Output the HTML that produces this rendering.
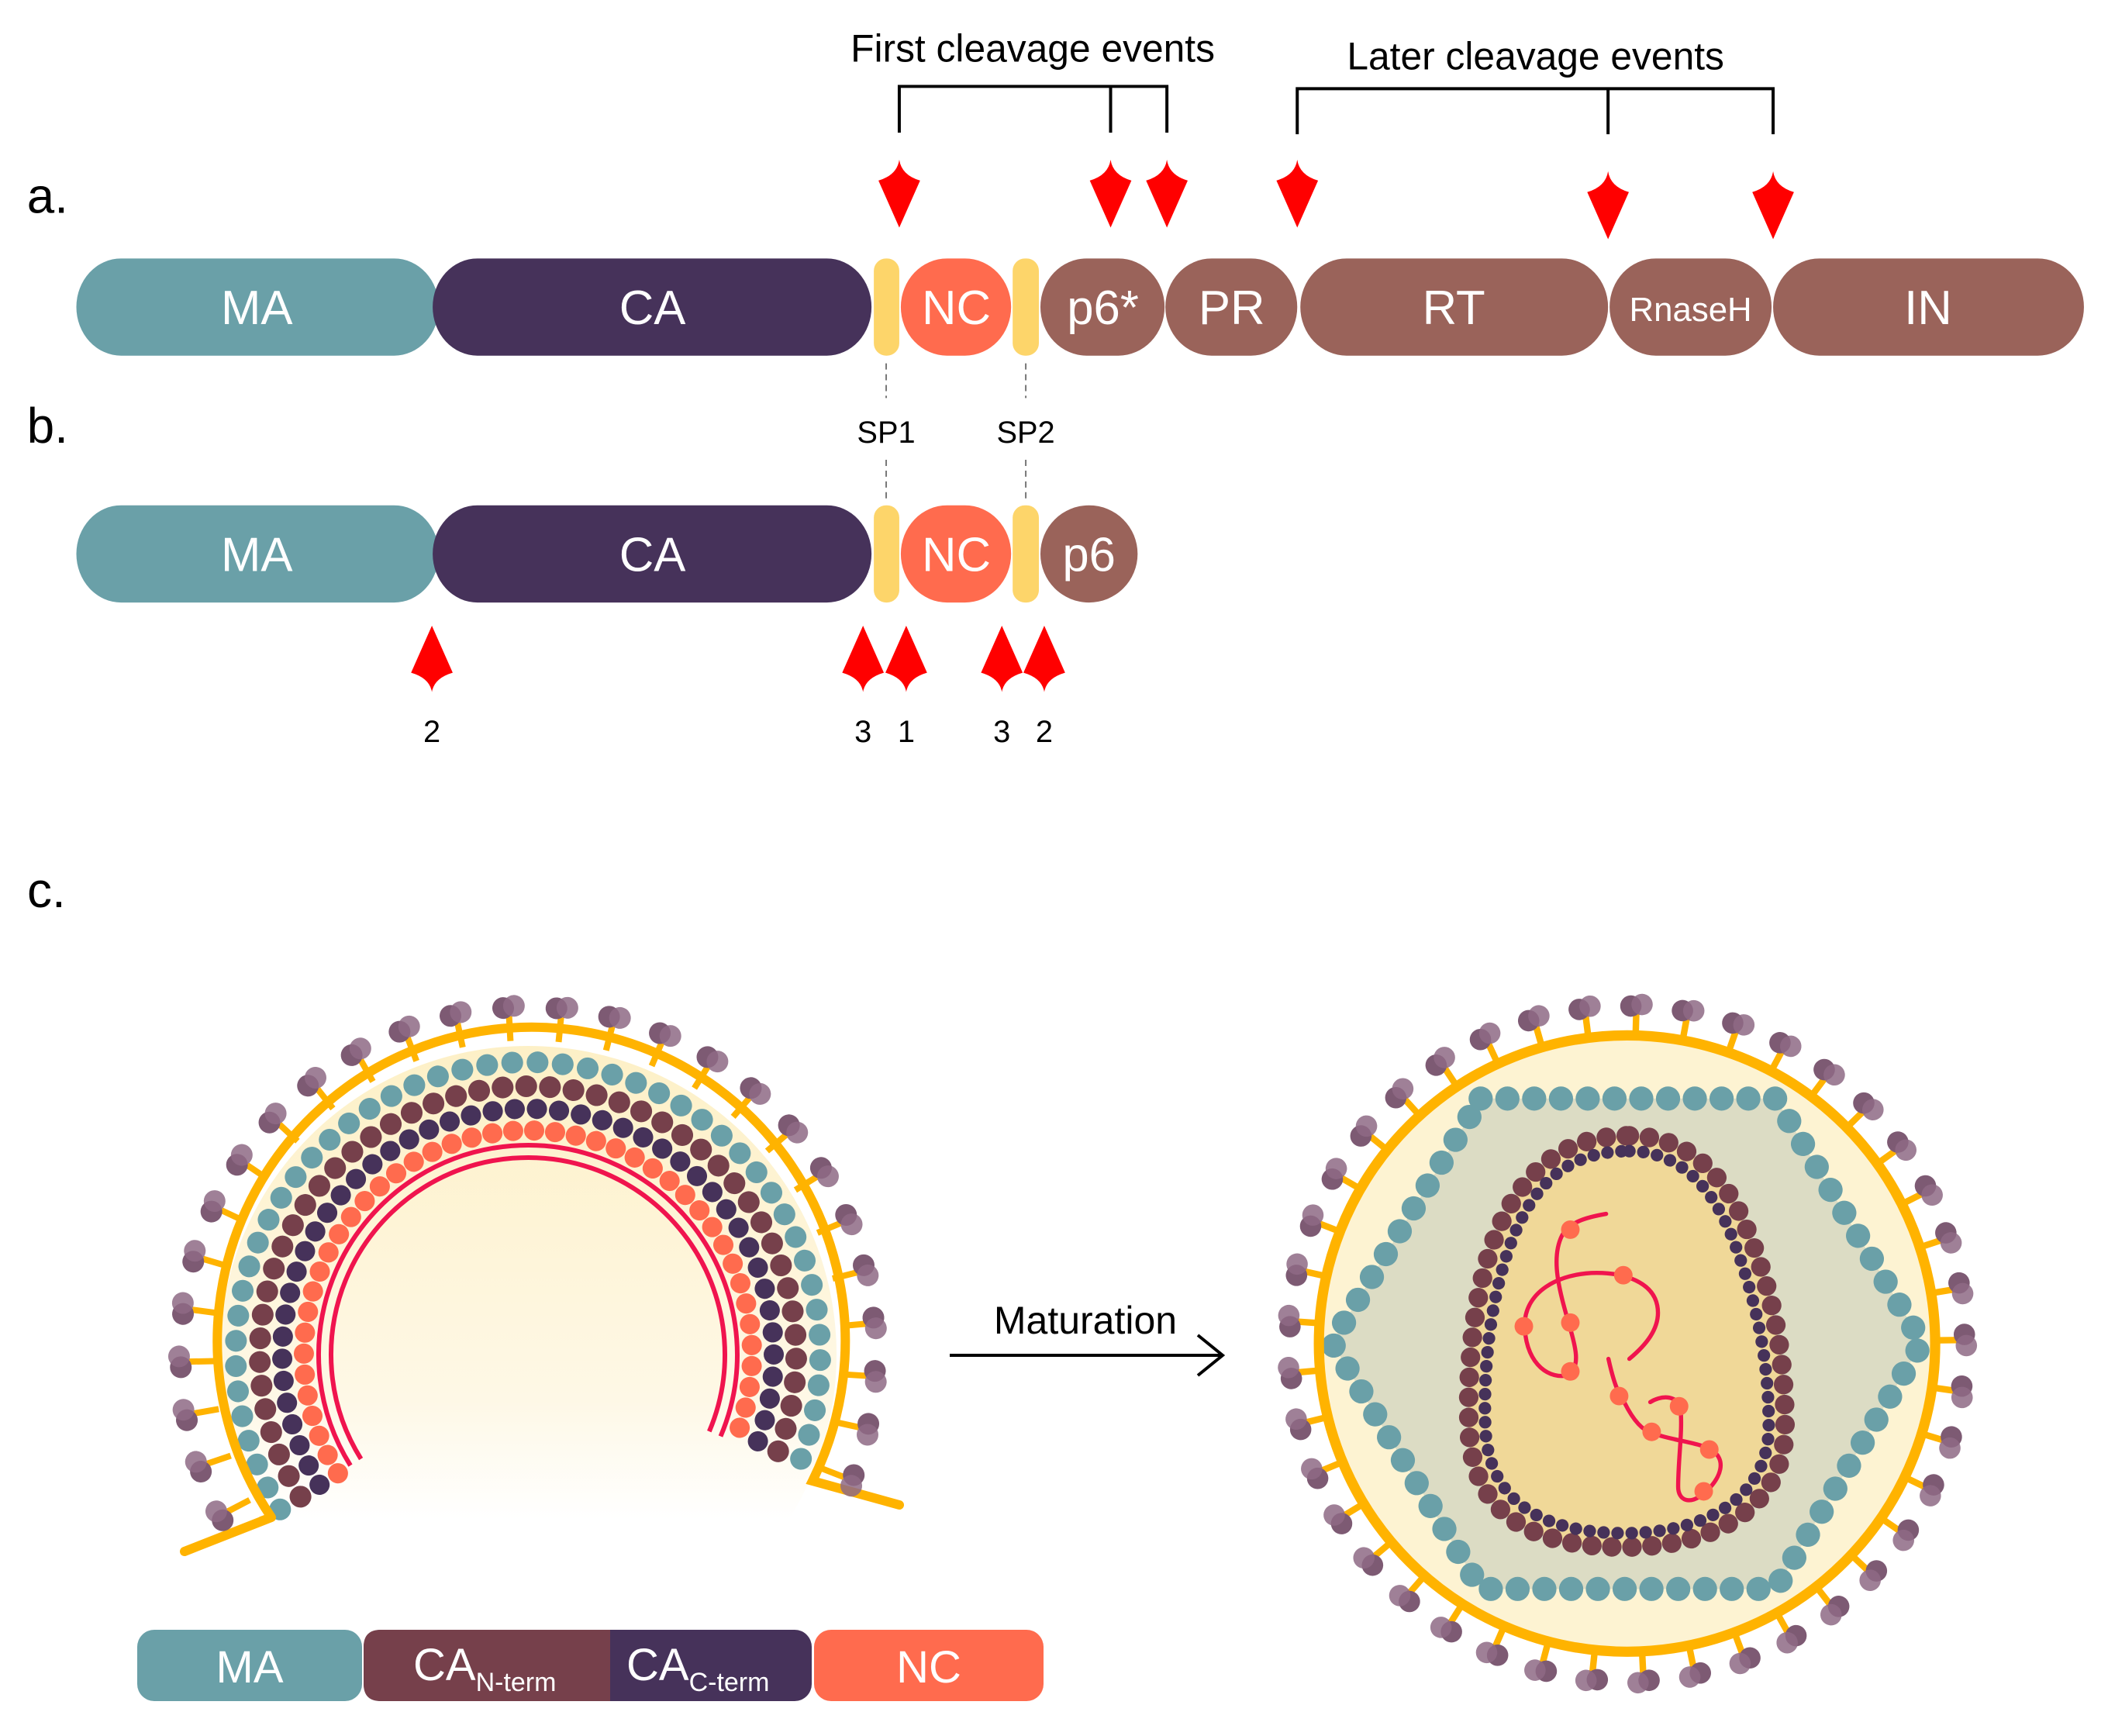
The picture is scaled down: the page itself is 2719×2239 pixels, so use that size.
<!DOCTYPE html>
<html><head><meta charset="utf-8"><style>
html,body{margin:0;padding:0;background:#fff;}
svg{display:block;}
text{font-family:"Liberation Sans",sans-serif;}
</style></head><body>
<svg width="2719" height="2239" viewBox="0 0 2719 2239" xmlns="http://www.w3.org/2000/svg">
<defs>
<path id="kd" d="M0,0 Q3,20 27,27 L0,88 L-27,27 Q-3,20 0,0 Z" fill="#ff0000"/>
<path id="ku" d="M0,0 L27,61 Q3,68 0,86 Q-3,68 -27,61 Z" fill="#ff0000"/>
<g id="spL">
<line x1="681" y1="1342" x2="681" y2="1310" stroke="#ffb300" stroke-width="8"/>
<circle cx="674" cy="1299" r="14" fill="#7d5a73"/>
<circle cx="688" cy="1297" r="14" fill="#8e6a85" opacity="0.85"/>
</g>
<g id="spR">
<line x1="765" y1="110" x2="765" y2="60" stroke="#ffb300" stroke-width="14"/>
<circle cx="753" cy="46" r="23" fill="#7d5a73"/>
<circle cx="777" cy="42" r="23" fill="#8e6a85" opacity="0.85"/>
</g>
<linearGradient id="gl" x1="0" y1="1342" x2="0" y2="1960" gradientUnits="userSpaceOnUse">
<stop offset="0" stop-color="#fdf0c6"/><stop offset="0.75" stop-color="#fef8e6"/><stop offset="1" stop-color="#ffffff"/>
</linearGradient>
</defs>

<g transform="scale(0.9948,0.995)">
<text x="35" y="276" font-size="64">a.</text>
<text x="35" y="574" font-size="64">b.</text>

<text x="1339" y="80" font-size="50" text-anchor="middle">First cleavage events</text>
<text x="1991" y="90" font-size="50" text-anchor="middle">Later cleavage events</text>
<g stroke="#000" stroke-width="4" fill="none">
<path d="M1166,172 V112 H1513 V172 M1440,112 V172"/>
<path d="M1682,174 V115 H2299 V174 M2085,115 V174"/>
</g>
<use href="#kd" x="1166" y="207"/><use href="#kd" x="1440" y="207"/><use href="#kd" x="1513" y="207"/>
<use href="#kd" x="1682" y="207"/><use href="#kd" x="2085" y="222"/><use href="#kd" x="2299" y="222"/>

<rect x="99" y="335" width="470" height="126" rx="58" ry="63" fill="#6aa0a8"/>
<rect x="561" y="335" width="569" height="126" rx="58" ry="63" fill="#46325a"/>
<rect x="1133" y="335" width="33" height="126" rx="16" fill="#fdd56a"/>
<rect x="1168" y="335" width="143" height="126" rx="60" ry="63" fill="#ff6b4e"/>
<rect x="1313" y="335" width="34" height="126" rx="16" fill="#fdd56a"/>
<rect x="1349" y="335" width="161" height="126" rx="60" ry="63" fill="#9a635a"/>
<rect x="1511" y="335" width="171" height="126" rx="60" ry="63" fill="#9a635a"/>
<rect x="1686" y="335" width="399" height="126" rx="60" ry="63" fill="#9a635a"/>
<rect x="2087" y="335" width="210" height="126" rx="60" ry="63" fill="#9a635a"/>
<rect x="2299" y="335" width="403" height="126" rx="60" ry="63" fill="#9a635a"/>
<g fill="#fff" font-size="62" text-anchor="middle">
<text x="333" y="420">MA</text><text x="846" y="420">CA</text><text x="1240" y="420">NC</text>
<text x="1430" y="420">p6*</text><text x="1597" y="420">PR</text><text x="1885" y="420">RT</text>
<text x="2192" y="416" font-size="44">RnaseH</text><text x="2500" y="420">IN</text>
</g>

<g stroke="#777" stroke-width="2" stroke-dasharray="8,6">
<line x1="1149" y1="471" x2="1149" y2="516"/><line x1="1149" y1="596" x2="1149" y2="650"/>
<line x1="1330" y1="471" x2="1330" y2="516"/><line x1="1330" y1="596" x2="1330" y2="650"/>
</g>
<text x="1149" y="574" font-size="40" text-anchor="middle">SP1</text>
<text x="1330" y="574" font-size="40" text-anchor="middle">SP2</text>

<rect x="99" y="655" width="470" height="126" rx="58" ry="63" fill="#6aa0a8"/>
<rect x="561" y="655" width="569" height="126" rx="58" ry="63" fill="#46325a"/>
<rect x="1133" y="655" width="33" height="126" rx="16" fill="#fdd56a"/>
<rect x="1168" y="655" width="143" height="126" rx="60" ry="63" fill="#ff6b4e"/>
<rect x="1313" y="655" width="34" height="126" rx="16" fill="#fdd56a"/>
<rect x="1349" y="655" width="126" height="126" rx="63" ry="63" fill="#9a635a"/>
<g fill="#fff" font-size="62" text-anchor="middle">
<text x="333" y="740">MA</text><text x="846" y="740">CA</text><text x="1240" y="740">NC</text><text x="1412" y="740">p6</text>
</g>
<use href="#ku" x="560" y="811"/><use href="#ku" x="1119" y="811"/><use href="#ku" x="1175" y="811"/>
<use href="#ku" x="1299" y="811"/><use href="#ku" x="1354" y="811"/>
<g font-size="40" text-anchor="middle">
<text x="560" y="962">2</text><text x="1119" y="962">3</text><text x="1175" y="962">1</text>
<text x="1299" y="962">3</text><text x="1354" y="962">2</text>
</g>
</g>
<text x="35" y="1170" font-size="64">c.</text>

<!-- left virus -->
<circle cx="681" cy="1747" r="398" fill="url(#gl)"/>
<g fill="none" stroke-linecap="round">
<path d="M361.3,1946.8 A377,377 0 1 1 1028,1894.3" stroke="#6aa0a8" stroke-width="28" stroke-dasharray="0.1 32.5"/>
<path d="M387.6,1930.4 A346,346 0 1 1 999.5,1882.2" stroke="#76404b" stroke-width="28" stroke-dasharray="0.1 30.5"/>
<path d="M412.2,1915 A317,317 0 1 1 972.8,1870.9" stroke="#46325a" stroke-width="26" stroke-dasharray="0.1 28.5"/>
<path d="M435.9,1900.2 A289,289 0 1 1 947,1859.9" stroke="#ff6b4e" stroke-width="26" stroke-dasharray="0.1 27"/>
<path d="M452,1890.1 A270,270 0 1 1 929.5,1852.5" stroke="#f0144e" stroke-width="6" stroke-linecap="butt"/>
<path d="M465.6,1881.6 A254,254 0 1 1 914.8,1846.2" stroke="#f0144e" stroke-width="6" stroke-linecap="butt"/>
<path d="M238,2001 L350,1957 L337.5,1961.6 M350,1957 A405,405 0 1 1 1048,1910 L1160,1941" stroke="#ffb300" stroke-width="12" stroke-linejoin="miter"/>
</g>
<g>
<use href="#spL" transform="rotate(-117.6 681 1747)"/><use href="#spL" transform="rotate(-108.8 681 1747)"/>
<use href="#spL" transform="rotate(-100 681 1747)"/><use href="#spL" transform="rotate(-91.2 681 1747)"/>
<use href="#spL" transform="rotate(-82.4 681 1747)"/><use href="#spL" transform="rotate(-73.6 681 1747)"/>
<use href="#spL" transform="rotate(-64.8 681 1747)"/><use href="#spL" transform="rotate(-56 681 1747)"/>
<use href="#spL" transform="rotate(-47.2 681 1747)"/><use href="#spL" transform="rotate(-38.4 681 1747)"/>
<use href="#spL" transform="rotate(-29.6 681 1747)"/><use href="#spL" transform="rotate(-20.8 681 1747)"/>
<use href="#spL" transform="rotate(-12 681 1747)"/><use href="#spL" transform="rotate(-3.2 681 1747)"/>
<use href="#spL" transform="rotate(5.6 681 1747)"/><use href="#spL" transform="rotate(14.4 681 1747)"/>
<use href="#spL" transform="rotate(23.2 681 1747)"/><use href="#spL" transform="rotate(32 681 1747)"/>
<use href="#spL" transform="rotate(40.8 681 1747)"/><use href="#spL" transform="rotate(49.6 681 1747)"/>
<use href="#spL" transform="rotate(58.4 681 1747)"/><use href="#spL" transform="rotate(67.2 681 1747)"/>
<use href="#spL" transform="rotate(76 681 1747)"/><use href="#spL" transform="rotate(84.8 681 1747)"/>
<use href="#spL" transform="rotate(93.6 681 1747)"/><use href="#spL" transform="rotate(102.4 681 1747)"/>
<use href="#spL" transform="rotate(111.2 681 1747)"/>
</g>

<text x="1400" y="1720" font-size="50" text-anchor="middle">Maturation</text>
<path d="M1225,1748 H1577 M1545,1722 L1577,1748 L1545,1774" stroke="#000" stroke-width="4" fill="none"/>

<g transform="translate(1640,1270) scale(0.5995)">
<circle cx="765" cy="772" r="663" fill="#fdf3d2"/>
<path d="M450,245 H1085 L1400,770 L1085,1300 H450 L130,770 Z" fill="#dcdcc4"/>
<path d="M450,245 H1085 L1400,770 L1085,1300 H450 L130,770 Z" fill="none" stroke="#6aa0a8" stroke-width="52" stroke-linecap="round" stroke-dasharray="0.1 57.5"/>
<path d="M770,325 C900,325 980,420 1020,520 C1080,660 1105,800 1105,950 C1105,1120 960,1210 760,1210 C560,1210 430,1140 425,950 C420,800 440,620 500,500 C560,380 650,325 770,325 Z" fill="#f0d898" stroke="#76404b" stroke-width="42" stroke-linecap="round" stroke-dasharray="0.1 43"/>
<path d="M770,358 C880,358 950,440 990,540 C1045,680 1070,810 1070,950 C1070,1100 940,1180 760,1180 C580,1180 465,1110 460,950 C455,810 475,640 530,520 C585,400 665,358 770,358 Z" fill="#f0d898" stroke="#46325a" stroke-width="27" stroke-linecap="round" stroke-dasharray="0.1 30"/>
<g fill="none" stroke="#f0144e" stroke-width="9" stroke-linecap="round">
<path d="M720,493 C680,500 640,510 625,540 C600,590 620,660 640,730 C655,780 665,820 640,840 C600,850 550,820 545,740 C540,660 620,620 700,620 C760,620 820,640 830,690 C840,740 800,780 770,805"/>
<path d="M725,805 C735,850 745,880 760,900 C780,940 800,960 820,965 C860,980 920,985 945,1000 C980,1020 970,1060 930,1095 C900,1120 875,1110 875,1080 C875,1020 885,960 880,910 C870,880 835,885 815,898"/>
</g>
<g fill="#ff6b4e">
<circle cx="643" cy="527" r="20"/><circle cx="757" cy="625" r="20"/><circle cx="543" cy="735" r="20"/>
<circle cx="643" cy="727" r="20"/><circle cx="643" cy="832" r="20"/><circle cx="748" cy="885" r="20"/>
<circle cx="818" cy="962" r="20"/><circle cx="877" cy="907" r="20"/><circle cx="942" cy="1000" r="20"/>
<circle cx="930" cy="1090" r="20"/>
</g>
<circle cx="765" cy="772" r="663" fill="none" stroke="#ffb300" stroke-width="22"/>
<g>
<use href="#spR" transform="rotate(1.6 765 772)"/><use href="#spR" transform="rotate(10.4 765 772)"/>
<use href="#spR" transform="rotate(19.2 765 772)"/><use href="#spR" transform="rotate(27.9 765 772)"/>
<use href="#spR" transform="rotate(36.7 765 772)"/><use href="#spR" transform="rotate(45.5 765 772)"/>
<use href="#spR" transform="rotate(54.3 765 772)"/><use href="#spR" transform="rotate(63.1 765 772)"/>
<use href="#spR" transform="rotate(71.8 765 772)"/><use href="#spR" transform="rotate(80.6 765 772)"/>
<use href="#spR" transform="rotate(89.4 765 772)"/><use href="#spR" transform="rotate(98.2 765 772)"/>
<use href="#spR" transform="rotate(107 765 772)"/><use href="#spR" transform="rotate(115.7 765 772)"/>
<use href="#spR" transform="rotate(124.5 765 772)"/><use href="#spR" transform="rotate(133.3 765 772)"/>
<use href="#spR" transform="rotate(142.1 765 772)"/><use href="#spR" transform="rotate(150.9 765 772)"/>
<use href="#spR" transform="rotate(159.6 765 772)"/><use href="#spR" transform="rotate(168.4 765 772)"/>
<use href="#spR" transform="rotate(177.2 765 772)"/><use href="#spR" transform="rotate(186 765 772)"/>
<use href="#spR" transform="rotate(194.8 765 772)"/><use href="#spR" transform="rotate(203.5 765 772)"/>
<use href="#spR" transform="rotate(212.3 765 772)"/><use href="#spR" transform="rotate(221.1 765 772)"/>
<use href="#spR" transform="rotate(229.9 765 772)"/><use href="#spR" transform="rotate(238.7 765 772)"/>
<use href="#spR" transform="rotate(247.4 765 772)"/><use href="#spR" transform="rotate(256.2 765 772)"/>
<use href="#spR" transform="rotate(265 765 772)"/><use href="#spR" transform="rotate(273.8 765 772)"/>
<use href="#spR" transform="rotate(282.6 765 772)"/><use href="#spR" transform="rotate(291.3 765 772)"/>
<use href="#spR" transform="rotate(300.1 765 772)"/><use href="#spR" transform="rotate(308.9 765 772)"/>
<use href="#spR" transform="rotate(317.7 765 772)"/><use href="#spR" transform="rotate(326.5 765 772)"/>
<use href="#spR" transform="rotate(335.2 765 772)"/><use href="#spR" transform="rotate(344 765 772)"/>
<use href="#spR" transform="rotate(352.8 765 772)"/>
</g>
</g>

<rect x="177" y="2102" width="290" height="92" rx="22" fill="#6aa0a8"/>
<rect x="469" y="2102" width="578" height="92" rx="22" fill="#46325a"/>
<path d="M491,2102 H787 V2194 H491 Q469,2194 469,2172 V2124 Q469,2102 491,2102 Z" fill="#76404b"/>
<rect x="1050" y="2102" width="296" height="92" rx="22" fill="#ff6b4e"/>
<g fill="#fff" font-size="58">
<text x="322" y="2170" text-anchor="middle">MA</text>
<text x="533" y="2167">CA<tspan font-size="34" dy="14">N-term</tspan></text>
<text x="808" y="2167">CA<tspan font-size="34" dy="14">C-term</tspan></text>
<text x="1198" y="2170" text-anchor="middle">NC</text>
</g>
</svg>
</body></html>
